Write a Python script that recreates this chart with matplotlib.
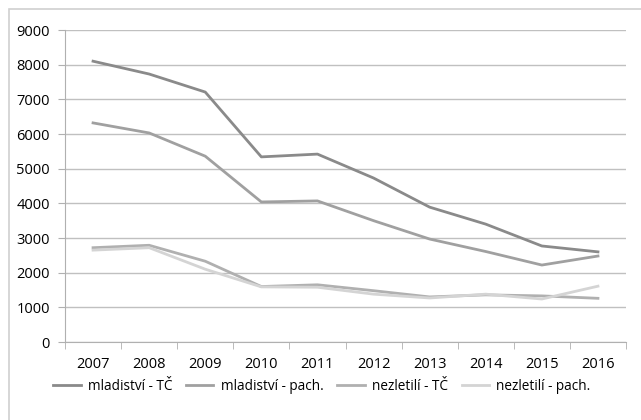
import matplotlib.pyplot as plt
from matplotlib.patches import Rectangle

plt.rcParams['font.family'] = ['Open Sans', 'DejaVu Sans']

years = ['2007', '2008', '2009', '2010', '2011', '2012', '2013', '2014', '2015', '2016']
mlad_tc = [8100, 7730, 7210, 5340, 5420, 4730, 3890, 3400, 2770, 2600]
mlad_pach = [6320, 6030, 5360, 4040, 4070, 3500, 2970, 2610, 2220, 2480]
nezl_tc = [2720, 2790, 2330, 1600, 1650, 1480, 1300, 1360, 1330, 1260]
nezl_pach = [2650, 2720, 2100, 1590, 1580, 1380, 1270, 1380, 1240, 1610]

W, H = 641, 420
fs = 10.5
fig = plt.figure(figsize=(W/100, H/100), dpi=100)
fig.patches.append(Rectangle((9/W, -0.1), 1.2, 1 - 9/H + 0.1, transform=fig.transFigure,
                             fill=False, ec='#d0d0d0', lw=1.2))

ax = fig.add_axes([65/W, 1 - 342/H, (626-65)/W, (342-30)/H])
x = range(len(years))
ax.plot(x, mlad_tc, color='#8a8a8a', lw=2, label='mladiství - TČ')
ax.plot(x, mlad_pach, color='#a0a0a0', lw=2, label='mladiství - pach.')
ax.plot(x, nezl_tc, color='#b0b0b0', lw=2, label='nezletilí - TČ')
ax.plot(x, nezl_pach, color='#d4d4d4', lw=2, label='nezletilí - pach.')

ax.set_xlim(-0.5, len(years) - 0.5)
ax.set_ylim(0, 9000)
ax.set_yticks(range(0, 9001, 1000))
ax.set_xticks(list(x))
ax.set_xticklabels(years)
ax.set_xticks([i - 0.5 for i in range(len(years) + 1)], minor=True)
ax.tick_params(axis='x', which='major', length=0, pad=11, labelsize=fs)
ax.tick_params(axis='x', which='minor', length=5, color='#b0b0b0')
ax.tick_params(axis='y', length=5, color='#b0b0b0', labelsize=fs, pad=6)
ax.grid(axis='y', color='#c0c0c0', lw=1)
ax.set_axisbelow(True)
for s in ['top', 'right']:
    ax.spines[s].set_visible(False)
ax.spines['left'].set_color('#b0b0b0')
ax.spines['bottom'].set_color('#b0b0b0')

fig.legend(loc='center', bbox_to_anchor=(322/W, 1 - 386/H), ncol=4, frameon=False,
           fontsize=9.8, handlelength=2.0, columnspacing=1.0, handletextpad=0.55)

fig.savefig('out.png', dpi=100)
